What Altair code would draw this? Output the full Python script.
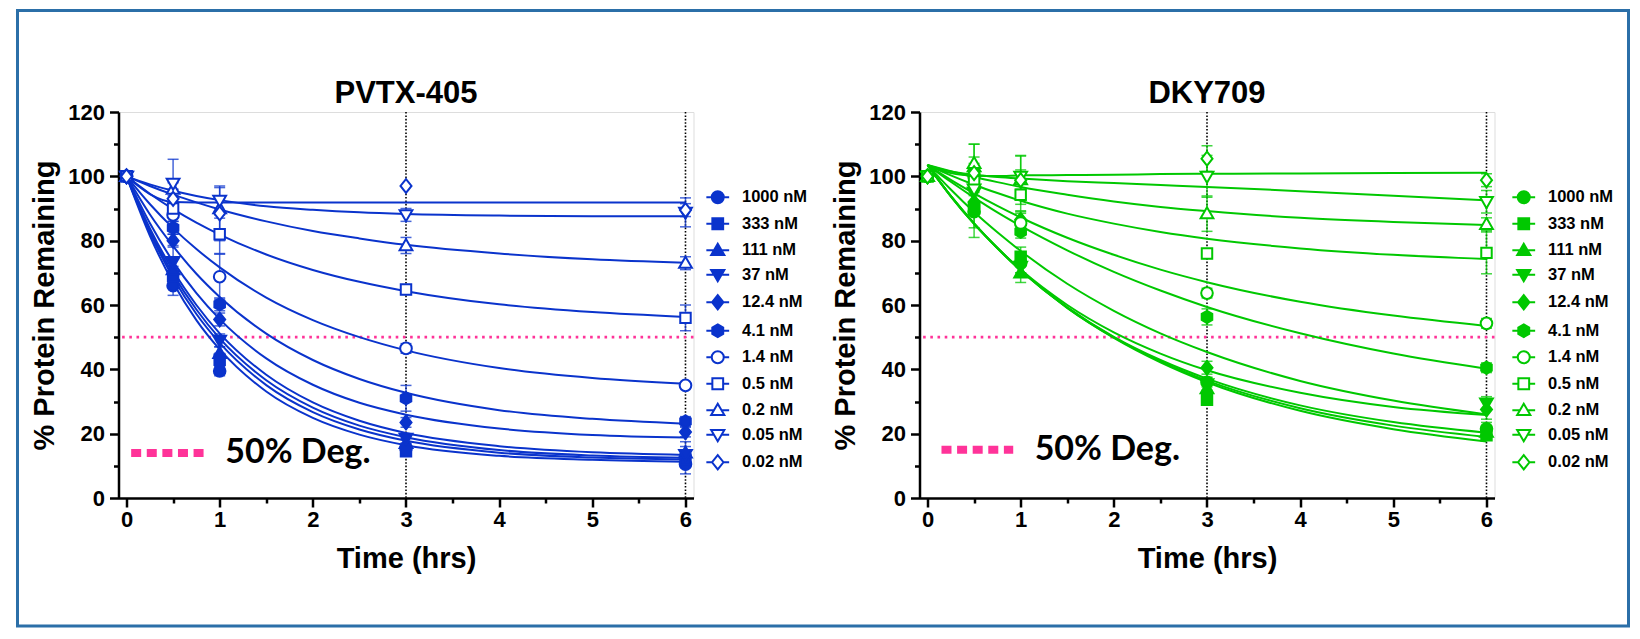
import altair as alt
import pandas as pd

# ---------------- data ----------------
CONC = ["1000 nM", "333 nM", "111 nM", "37 nM", "12.4 nM", "4.1 nM",
        "1.4 nM", "0.5 nM", "0.2 nM", "0.05 nM", "0.02 nM"]
FILLED = [True, True, True, True, True, True, False, False, False, False, False]
TIME = [0, 0.5, 1, 3, 6]
CURVE_T = [0, 0.25, 0.5, 0.75, 1, 1.5, 2, 2.5, 3, 4, 5, 6]

PVTX_MEAN = [
    [100, 66.0, 39.5, 15.5, 10.5],
    [100, 69.0, 43.0, 14.5, 12.0],
    [100, 71.0, 45.0, 17.0, 14.0],
    [100, 73.5, 49.0, 18.5, 13.5],
    [100, 80.0, 55.5, 23.5, 20.5],
    [100, 84.0, 60.2, 31.0, 23.8],
    [100, 88.0, 68.8, 46.5, 35.0],
    [100, 90.0, 82.0, 64.8, 56.0],
    [100, 96.0, 90.0, 78.5, 73.0],
    [100, 97.8, 92.5, 88.0, 88.8],
    [100, 93.0, 88.5, 97.0, 89.5],
]
PVTX_SD = [
    [0, 3.0, 1.5, 1.5, 3.0],
    [0, 3.0, 2.0, 1.5, 2.0],
    [0, 4.0, 2.0, 1.5, 2.0],
    [0, 5.0, 2.0, 1.5, 4.0],
    [0, 2.0, 2.0, 1.5, 1.5],
    [0, 2.0, 2.0, 4.0, 1.5],
    [0, 2.0, 7.0, 1.5, 1.0],
    [0, 2.0, 6.0, 1.5, 4.0],
    [0, 2.0, 3.0, 2.5, 2.0],
    [0, 7.5, 4.0, 2.0, 4.5],
    [0, 3.0, 8.5, 0.0, 2.0],
]
PVTX_FIT = [
    [100, 81.6, 66.9, 55.3, 46.2, 33.1, 24.9, 19.7, 16.4, 13.1, 11.9, 11.3],
    [100, 82.6, 68.5, 57.2, 48.2, 35.1, 26.7, 21.3, 17.8, 14.1, 12.6, 12.0],
    [100, 83.2, 69.6, 58.6, 49.6, 36.6, 28.1, 22.5, 18.9, 14.9, 13.2, 12.5],
    [100, 83.9, 70.7, 60.0, 51.2, 38.3, 29.7, 24.0, 20.2, 16.1, 14.2, 13.4],
    [100, 85.5, 73.5, 63.7, 55.6, 43.4, 35.2, 29.6, 25.9, 21.6, 19.6, 18.8],
    [100, 88.2, 78.3, 69.7, 62.5, 51.1, 42.9, 37.0, 32.7, 27.3, 24.6, 23.1],
    [100, 91.4, 83.9, 77.4, 71.7, 62.3, 55.3, 50.0, 45.9, 40.4, 37.3, 35.5],
    [100, 94.6, 89.8, 85.6, 81.9, 75.7, 70.9, 67.2, 64.3, 60.2, 57.8, 56.3],
    [100, 97.0, 94.3, 91.9, 89.7, 86.0, 83.0, 80.7, 78.7, 76.0, 74.2, 73.1],
    [100, 97.5, 95.5, 93.9, 92.6, 90.7, 89.6, 88.8, 88.3, 87.8, 87.6, 87.6],
    [100, 94.5, 92.0, 91.9, 91.9, 91.9, 91.9, 91.9, 91.9, 91.9, 91.9, 91.9],
]

DKY_MEAN = [
    [100, 89.0, 73.0, 36.0, 21.5],
    [100, 90.0, 75.0, 30.5, 19.5],
    [100, 103.0, 70.0, 34.0, 20.5],
    [100, 95.0, 72.0, 35.5, 29.5],
    [100, 92.0, 86.5, 40.5, 27.5],
    [100, 91.0, 82.8, 56.3, 40.5],
    [100, 100.0, 85.5, 63.7, 54.3],
    [100, 98.5, 94.3, 76.0, 76.2],
    [100, 104.0, 99.0, 88.4, 85.1],
    [100, 96.0, 100.0, 100.0, 92.1],
    [100, 101.0, 98.8, 105.5, 98.8],
]
DKY_SD = [
    [0, 8.0, 3.0, 1.5, 2.0],
    [0, 6.0, 3.0, 1.5, 1.5],
    [0, 7.0, 3.0, 1.5, 2.0],
    [0, 4.0, 2.0, 2.0, 2.0],
    [0, 3.0, 2.5, 2.0, 3.0],
    [0, 3.0, 2.0, 2.5, 1.5],
    [0, 4.0, 3.0, 1.5, 1.5],
    [0, 3.0, 5.0, 1.5, 6.5],
    [0, 6.0, 3.0, 5.5, 2.0],
    [0, 4.0, 6.5, 6.5, 3.5],
    [0, 5.0, 7.5, 4.0, 2.0],
]
DKY_FIT = [
    [103.5, 93.9, 85.4, 77.8, 70.9, 59.1, 49.8, 42.2, 36.0, 27.1, 21.4, 17.6],
    [103.5, 93.9, 85.4, 77.7, 70.8, 59.1, 49.9, 42.5, 36.5, 27.9, 22.5, 19.0],
    [103.5, 93.8, 85.2, 77.6, 70.7, 59.3, 50.1, 42.9, 37.1, 28.8, 23.6, 20.3],
    [103.5, 93.8, 85.2, 77.7, 71.0, 60.0, 51.5, 44.9, 39.7, 32.7, 28.3, 25.8],
    [103.5, 95.9, 88.9, 82.6, 76.8, 66.6, 58.2, 51.2, 45.4, 36.4, 30.3, 26.0],
    [103.5, 98.3, 93.4, 88.8, 84.6, 77.0, 70.3, 64.5, 59.4, 51.2, 44.9, 40.2],
    [103.5, 98.9, 94.7, 90.8, 87.2, 80.9, 75.6, 71.0, 67.1, 61.0, 56.7, 53.5],
    [103.5, 100.3, 97.4, 94.8, 92.4, 88.4, 85.3, 82.7, 80.6, 77.6, 75.6, 74.3],
    [103.5, 101.6, 99.8, 98.2, 96.7, 94.3, 92.2, 90.5, 89.2, 87.1, 85.8, 84.9],
    [103.5, 101.5, 100.5, 99.8, 99.3, 98.5, 97.9, 97.3, 96.7, 95.4, 94.0, 92.5],
    [103.5, 101.0, 100.2, 100.1, 100.3, 100.4, 100.5, 100.7, 100.8, 100.9, 101.0, 101.1],
]

GUIDE_T = [3, 6]
THRESHOLD = [50]
DEG_LABEL = "50% Deg."

X_MAJOR = [0, 1, 2, 3, 4, 5, 6]
X_MINOR = [0.5, 1.5, 2.5, 3.5, 4.5, 5.5]
Y_MAJOR = [0, 20, 40, 60, 80, 100, 120]
Y_MINOR = [10, 30, 50, 70, 90, 110]

# ---------------- styling ----------------
BLUE = "#0A33CC"
GREEN = "#00C800"
PINK = "#FF3399"
FRAME = "#2B6FA8"
FONT = "Liberation Sans"
DEG_FONT = "Lato"
W, H = 575, 386

CIRCLE_P = "M1,0A1,1,0,1,1,-1,0A1,1,0,1,1,1,0Z"
SQUARE_P = "M-0.9,-0.9H0.9V0.9H-0.9Z"
TRI_UP_P = "M0,-1.1L1.1,0.8H-1.1Z"
TRI_DN_P = "M0,1.1L1.1,-0.8H-1.1Z"
DIAMOND_P = "M0,-1.2L0.95,0L0,1.2L-0.95,0Z"
HEX_P = "M0,-1.05L0.91,-0.525V0.525L0,1.05L-0.91,0.525V-0.525Z"
BASE = [(CIRCLE_P, 1.0), (SQUARE_P, 0.9), (TRI_UP_P, 0.64), (TRI_DN_P, 0.64),
        (DIAMOND_P, 0.95), (HEX_P, 0.91), (CIRCLE_P, 1.0), (SQUARE_P, 0.9),
        (TRI_UP_P, 0.64), (TRI_DN_P, 0.64), (DIAMOND_P, 0.95)]
PLAIN_SHAPES = [p for p, _ in BASE]
LEGEND_SHAPES = [f"{p}M-1.9,0L-{e},0M{e},0L1.9,0" for p, e in BASE]

XS = alt.Scale(domain=[-0.086, 6.086], nice=False, zero=False)
YS = alt.Scale(domain=[0, 120], nice=False, zero=False)

main_x = alt.Axis(values=X_MAJOR, format="d", title="Time (hrs)", grid=False,
                  domainColor="black", domainWidth=2.5, tickColor="black", tickWidth=2.5,
                  tickSize=9, labelFont=FONT, labelFontSize=22, labelFontWeight="bold",
                  labelColor="black", labelPadding=2, titleFont=FONT, titleFontSize=29,
                  titleFontWeight="bold", titleColor="black", titlePadding=14, orient="bottom")
main_y = alt.Axis(values=Y_MAJOR, format="d", title="% Protein Remaining", grid=False,
                  domainColor="black", domainWidth=2.5, tickColor="black", tickWidth=2.5,
                  tickSize=9, labelFont=FONT, labelFontSize=22, labelFontWeight="bold",
                  labelColor="black", labelPadding=5, titleFont=FONT, titleFontSize=29,
                  titleFontWeight="bold", titleColor="black", titlePadding=8, orient="left")
minor_x = alt.Axis(values=X_MINOR, labels=False, domain=False, grid=False, title=None,
                   tickColor="black", tickWidth=2.5, tickSize=5, orient="bottom")
minor_y = alt.Axis(values=Y_MINOR, labels=False, domain=False, grid=False, title=None,
                   tickColor="black", tickWidth=2.5, tickSize=5, orient="left")


def panel(title, title_offset, color, mean, sd, fit, deg_x1, deg_x2, deg_y, text_x, leg_x, leg_y, frame):
    pts = []
    for i, c in enumerate(CONC):
        for j, t in enumerate(TIME):
            pts.append({"conc": c, "t": t, "v": mean[i][j],
                        "lo": mean[i][j] - sd[i][j], "hi": mean[i][j] + sd[i][j], "sd": sd[i][j]})
    pts_df = pd.DataFrame(pts)
    err_df = pts_df[pts_df["sd"] > 0]
    fit_df = pd.DataFrame([{"conc": c, "t": t, "v": fit[i][k]}
                           for i, c in enumerate(CONC) for k, t in enumerate(CURVE_T)])
    fills = [color if f else "white" for f in FILLED]

    X = lambda f, ax=None: alt.X(f, scale=XS, axis=ax)
    Y = lambda f, ax=None: alt.Y(f, scale=YS, axis=ax)

    guides = alt.Chart(pd.DataFrame({"t": GUIDE_T})).mark_rule(
        color="black", strokeDash=[1.6, 1.8], strokeWidth=1.6
    ).encode(x=X("t:Q"))

    thr = alt.Chart(pd.DataFrame({"y": THRESHOLD})).mark_rule(
        color=PINK, strokeDash=[2.6, 4.6], strokeWidth=2.6
    ).encode(y=Y("y:Q"))

    err = alt.Chart(err_df).mark_rule(color=color, strokeWidth=1.5, opacity=0.75).encode(
        x=X("t:Q"), y=Y("lo:Q"), y2="hi:Q")
    cap_hi = alt.Chart(err_df).mark_tick(color=color, orient="horizontal", size=11,
                                         thickness=1.5, opacity=0.75).encode(x=X("t:Q"), y=Y("hi:Q"))
    cap_lo = alt.Chart(err_df).mark_tick(color=color, orient="horizontal", size=11,
                                         thickness=1.5, opacity=0.75).encode(x=X("t:Q"), y=Y("lo:Q"))

    curves = alt.Chart(fit_df).mark_line(interpolate="monotone", strokeWidth=2, color=color).encode(
        x=X("t:Q", main_x), y=Y("v:Q", main_y), detail="conc:N")

    points = alt.Chart(pts_df).mark_point(filled=False, size=135, strokeWidth=2, opacity=1).encode(
        x=X("t:Q", minor_x), y=Y("v:Q", minor_y),
        shape=alt.Shape("conc:N", scale=alt.Scale(domain=CONC, range=PLAIN_SHAPES), legend=None),
        fill=alt.Fill("conc:N", scale=alt.Scale(domain=CONC, range=fills), legend=None),
        stroke=alt.value(color))

    leg = alt.Legend(title=None, orient="none", legendX=leg_x, legendY=leg_y, symbolSize=144,
                     symbolStrokeWidth=2, symbolOpacity=1,
                     labelFont=FONT, labelFontSize=16.5, labelFontWeight="bold",
                     labelColor="black", labelOffset=16, rowPadding=5.5, padding=0)
    legend_layer = alt.Chart(pts_df).mark_point(filled=False, size=135, strokeWidth=2, opacity=0).encode(
        x=X("t:Q"), y=Y("v:Q"),
        shape=alt.Shape("conc:N", scale=alt.Scale(domain=CONC, range=LEGEND_SHAPES), legend=leg),
        fill=alt.Fill("conc:N", scale=alt.Scale(domain=CONC, range=fills), legend=leg),
        stroke=alt.Stroke("conc:N", scale=alt.Scale(domain=CONC, range=[color] * len(CONC)), legend=leg))

    deg_mark = alt.Chart(pd.DataFrame({"x1": [deg_x1], "x2": [deg_x2], "y": [deg_y]})).mark_rule(
        color=PINK, strokeWidth=8, strokeDash=[10, 5.6], strokeCap="butt"
    ).encode(x=X("x1:Q"), x2="x2:Q", y=Y("y:Q"))
    deg_text = alt.Chart(pd.DataFrame({"x": [text_x], "y": [deg_y], "label": [DEG_LABEL]})).mark_text(
        align="left", baseline="middle", font=DEG_FONT, fontSize=34, fontWeight="bold", color="black"
    ).encode(x=X("x:Q"), y=Y("y:Q"), text="label:N")

    layers = [guides, thr, err, cap_hi, cap_lo, curves, points, legend_layer, deg_mark, deg_text]
    if frame:
        box = alt.Chart(pd.DataFrame({"a": [0]})).mark_rect(
            fill="transparent", stroke=FRAME, strokeWidth=3
        ).encode(x=alt.value(-101), x2=alt.value(1510), y=alt.value(-101.5), y2=alt.value(514))
        layers.insert(0, box)

    return alt.layer(*layers).properties(
        width=W, height=H,
        title=alt.TitleParams(title, font=FONT, fontSize=31, fontWeight="bold", color="black",
                              anchor="middle", frame="group", offset=title_offset)
    ).resolve_scale(shape="independent", fill="independent", stroke="independent"
    ).resolve_axis(x="independent", y="independent")


left = panel("PVTX-405", -101, BLUE, PVTX_MEAN, PVTX_SD, PVTX_FIT, 0.05, 0.84, 14.0, 1.06, 591, 77, True)
right = panel("DKY709", -9, GREEN, DKY_MEAN, DKY_SD, DKY_FIT, 0.15, 0.92, 15.0, 1.15, 596, 77, False)

chart = alt.hconcat(left, right, spacing=226, bounds="flush").resolve_scale(
    shape="independent", fill="independent", stroke="independent"
).resolve_legend(shape="independent", fill="independent", stroke="independent").properties(
    padding={"left": 7.5, "top": 0, "right": 0, "bottom": 0}
).configure_view(stroke=None).configure(background="white")

chart.save("out.html", embed_options={"renderer": "svg", "actions": False})
